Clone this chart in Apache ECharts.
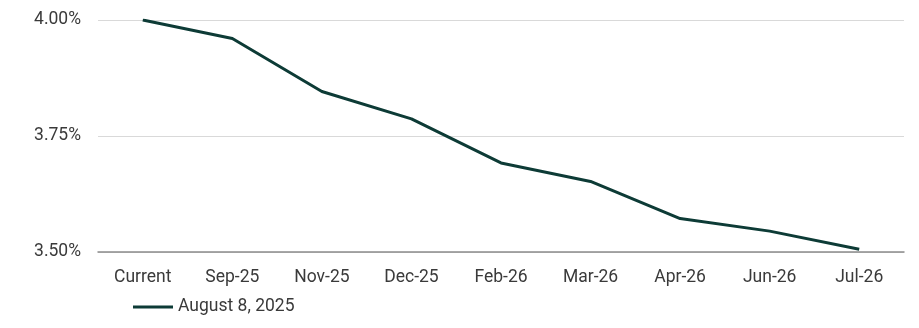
<!DOCTYPE html>
<html>
<head>
<meta charset="utf-8">
<script src="https://cdn.jsdelivr.net/npm/echarts@6/dist/echarts.min.js"></script>
<style>
  html, body { margin: 0; padding: 0; background: #fff; }
  #chart { width: 919px; height: 328px; }
</style>
</head>
<body>
<div id="chart"></div>
<script>
// Meeting dates along the x axis
const categories = ['Current', 'Sep-25', 'Nov-25', 'Dec-25', 'Feb-26', 'Mar-26', 'Apr-26', 'Jun-26', 'Jul-26'];
// Implied policy rate path (%) as of the snapshot date
const ratePath = [4.00, 3.96, 3.846, 3.787, 3.692, 3.652, 3.572, 3.545, 3.506];
const seriesName = 'August 8, 2025';
// Y axis range and step (%)
const yMin = 3.5, yMax = 4.0, yStep = 0.25;

const chart = echarts.init(document.getElementById('chart'));
const font = 'Roboto, "Liberation Sans", sans-serif';
const textColor = '#3a3a3a';
chart.setOption({
  animation: false,
  grid: { left: 98, right: 15, top: 20, bottom: 76 },
  legend: {
    left: 128, top: 293,
    icon: 'rect', itemWidth: 40, itemHeight: 3,
    textStyle: { fontFamily: font, fontSize: 17.5, color: textColor },
    data: [seriesName]
  },
  xAxis: {
    type: 'category',
    data: categories,
    boundaryGap: true,
    axisLine: { lineStyle: { color: '#8c8c8c', width: 1.5 } },
    axisTick: { show: false },
    axisLabel: { fontFamily: font, fontSize: 17.5, color: textColor, margin: 17 }
  },
  yAxis: {
    type: 'value',
    min: yMin, max: yMax, interval: yStep,
    axisLine: { show: false },
    axisTick: { show: false },
    splitLine: { lineStyle: { color: '#d9d9d9', width: 1 } },
    axisLabel: {
      fontFamily: font, fontSize: 17.5, color: textColor, margin: 17,
      formatter: v => v.toFixed(2) + '%'
    }
  },
  series: [{
    name: seriesName,
    type: 'line',
    data: ratePath,
    symbol: 'none',
    lineStyle: { color: '#0d3b36', width: 3 },
    itemStyle: { color: '#0d3b36' }
  }]
});
</script>
</body>
</html>
